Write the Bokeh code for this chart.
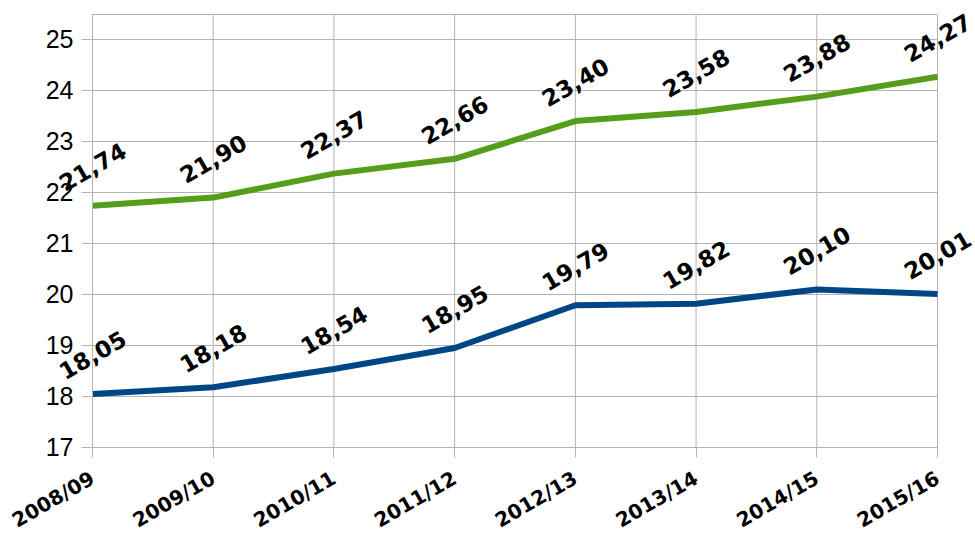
import math
from bokeh.plotting import figure
from bokeh.models import Range1d, FixedTicker, ColumnDataSource, Label
from bokeh.embed import file_html
from bokeh.resources import INLINE

categories = ["2008/09", "2009/10", "2010/11", "2011/12", "2012/13", "2013/14", "2014/15", "2015/16"]
green_values = [21.74, 21.90, 22.37, 22.66, 23.40, 23.58, 23.88, 24.27]
blue_values = [18.05, 18.18, 18.54, 18.95, 19.79, 19.82, 20.10, 20.01]
y_ticks = [17, 18, 19, 20, 21, 22, 23, 24, 25]

GREEN = "#579d1c"
BLUE = "#004586"
GRID = "#b3b3b3"

xs = list(range(len(categories)))
Y_MIN, Y_TOP = 17, 25.49
X_MIN, X_MAX = xs[0], xs[-1]

# The frame covers the whole canvas so rotated value labels and axis labels are
# not clipped; the visible chart box [0..7] x [17..25.49] is drawn explicitly.
p = figure(frame_width=975, frame_height=529, output_backend="svg", toolbar_location=None,
           x_range=Range1d(-0.76213, 7.31479), y_range=Range1d(15.31376, 25.68607),
           min_border_left=0, min_border_right=0, min_border_top=4, min_border_bottom=0)
p.outline_line_color = None
p.background_fill_color = "white"
p.border_fill_color = "white"
p.xgrid.visible = False
p.ygrid.visible = False

hy = y_ticks + [Y_TOP]
p.segment(x0=[X_MIN] * len(hy), y0=hy, x1=[X_MAX] * len(hy), y1=hy,
          line_color=GRID, line_width=1)
p.segment(x0=xs, y0=[Y_MIN] * len(xs), x1=xs, y1=[Y_TOP] * len(xs),
          line_color=GRID, line_width=1)

p.xaxis.ticker = FixedTicker(ticks=xs)
p.xaxis.major_label_overrides = {i: c for i, c in enumerate(categories)}
p.xaxis.bounds = (X_MIN, X_MAX)
p.xaxis.fixed_location = Y_MIN
p.yaxis.ticker = FixedTicker(ticks=y_ticks)
p.yaxis.bounds = (Y_MIN, Y_TOP)
p.yaxis.fixed_location = X_MIN

for ax in (p.xaxis[0], p.yaxis[0]):
    ax.axis_line_color = GRID
    ax.major_tick_line_color = GRID
    ax.minor_tick_line_color = None
    ax.major_tick_in = 0

p.yaxis.major_tick_out = 11
p.xaxis.major_tick_out = 10
p.yaxis.major_label_text_font = "Liberation Sans"
p.yaxis.major_label_text_font_size = "25px"
p.yaxis.major_label_text_color = "black"
p.yaxis.major_label_standoff = 8
p.xaxis.major_label_text_font = "DejaVu Sans"
p.xaxis.major_label_text_font_style = "bold"
p.xaxis.major_label_text_font_size = "20px"
p.xaxis.major_label_text_color = "black"
p.xaxis.major_label_orientation = math.pi / 6
p.xaxis.major_label_standoff = 19

for vals, col in ((blue_values, BLUE), (green_values, GREEN)):
    src = ColumnDataSource(dict(x=xs, y=vals))
    p.line("x", "y", source=src, line_color=col, line_width=6)
    for xv, yv in zip(xs, vals):
        p.add_layout(Label(x=xv, y=yv, text=f"{yv:.2f}".replace(".", ","),
                           angle=math.pi / 6, text_align="center", text_baseline="middle",
                           x_offset=0, y_offset=39, text_font="DejaVu Sans",
                           text_font_style="bold", text_font_size="23px",
                           text_color="black"))

open("out.html", "w").write(file_html(p, INLINE))
